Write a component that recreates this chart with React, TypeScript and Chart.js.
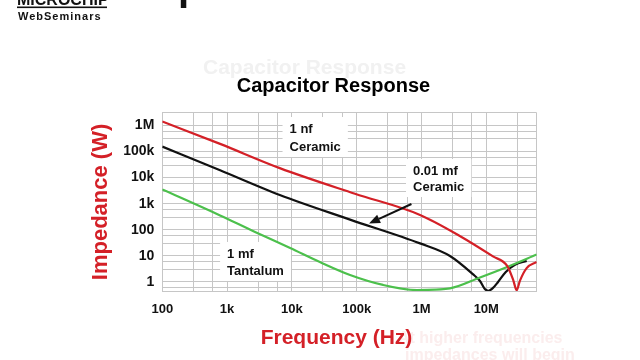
import React, { useEffect, useRef } from "react";
import { Chart, registerables } from "chart.js";

Chart.register(...registerables);

const FONT = "'Liberation Sans', Arial, Helvetica, sans-serif";
const RED = "#d42027";
const GREEN = "#4cc04c";
const BLACK = "#111111";
const GRID = "#c6c6c6";

// Axis ticks
const freqDecades = [100, 1e3, 1e4, 1e5, 1e6, 1e7];
const freqLabels = ["100", "1k", "10k", "100k", "1M", "10M"];
const impDecades = [0.1, 1, 10, 100, 1e3, 1e4, 1e5, 1e6];
const impLabels = ["", "1", "10", "100", "1k", "10k", "100k", "1M"];
const gridSteps = [1, 3, 6];
const X_MIN = 100;
const X_MAX = 6e7;
const Y_MIN = 0.45;
const Y_MAX = 3e6;

// 1 nf Ceramic (red)
const ceramic1nfFreq = [100, 780, 6.5e3, 9.4e4, 9.5e5, 3.9e6, 1.27e7, 2.1e7, 2.6e7, 2.95e7, 3.3e7, 4.2e7, 6e7];
const ceramic1nfZ = [1.4e6, 1.95e5, 2.3e4, 2.4e3, 370, 58, 9.5, 4.1, 1.2, 0.48, 1.1, 3.4, 5.8];

// 0.01 mf Ceramic (black)
const ceramic001Freq = [100, 780, 6.5e3, 7.9e4, 9.5e5, 2.75e6, 6.2e6, 8e6, 9.5e6, 1.08e7, 1.27e7, 1.52e7, 2.0e7, 2.77e7, 4.2e7];
const ceramic001Z = [1.53e5, 1.9e4, 2.15e3, 245, 30, 9.9, 2.0, 1.09, 0.54, 0.46, 0.59, 1.0, 2.4, 4.5, 6.4];

// 1 mf Tantalum (green)
const tantalumFreq = [100, 780, 2.7e3, 9.4e3, 2.7e4, 7.9e4, 2.55e5, 8.5e5, 2.75e6, 8e6, 2.1e7, 6e7];
const tantalumZ = [3.5e3, 353, 82, 20, 5.8, 1.85, 0.77, 0.49, 0.57, 1.49, 3.76, 11.3];

// Annotation anchors (data coordinates: frequency, impedance)
const labelNf = { f: 9.2e3, lines: ["1 nf", "Ceramic"], z: [5.1e5, 1.04e5] };
const label001 = { f: 7.4e5, lines: ["0.01 mf", "Ceramic"], z: [1.25e4, 3.05e3] };
const labelTa = { f: 1.0e3, lines: ["1 mf", "Tantalum"], z: [8.3, 1.85] };
const arrowFrom = { f: 7.0e5, z: 970 };
const arrowTo = { f: 1.55e5, z: 175 };

const near = (a: number, b: number) => Math.abs(a - b) / b < 1e-6;

function toPoints(fs: number[], zs: number[]) {
  return fs.map((f, i) => ({ x: f, y: zs[i] }));
}

const annotationPlugin = {
  id: "slideDecor",
  beforeDraw(chart: any) {
    const ctx = chart.ctx;
    ctx.save();
    ctx.fillStyle = "#ffffff";
    ctx.fillRect(0, 0, chart.width, chart.height);
    // ghost title from slide transition
    ctx.fillStyle = "#f1f1f1";
    ctx.font = `bold 21px ${FONT}`;
    ctx.textAlign = "left";
    ctx.textBaseline = "alphabetic";
    ctx.fillText("Capacitor Response", 203, 74);
    // ghost red note
    ctx.fillStyle = "#fbeded";
    ctx.font = `bold 16px ${FONT}`;
    ctx.fillText("At higher frequencies", 398, 343);
    ctx.fillText("impedances will begin", 405, 360);
    // logo
    ctx.fillStyle = "#111";
    ctx.font = `bold 16px ${FONT}`;
    ctx.fillText("MICROCHIP", 17, 4.5);
    ctx.fillRect(17, 6.5, 90, 1.6);
    ctx.font = `bold 11px ${FONT}`;
    (ctx as any).letterSpacing = "1px";
    ctx.fillText("WebSeminars", 18, 20);
    (ctx as any).letterSpacing = "0px";
    ctx.font = `bold 40px ${FONT}`;
    ctx.fillText("p", 178, 0);
    // main title
    ctx.fillStyle = "#000";
    ctx.font = `bold 20px ${FONT}`;
    ctx.textAlign = "center";
    ctx.fillText("Capacitor Response", 333.5, 91.5);
    // x axis title
    ctx.fillStyle = RED;
    ctx.font = `bold 21px ${FONT}`;
    ctx.fillText("Frequency (Hz)", 336.5, 344);
    ctx.restore();
  },
  beforeDatasetsDraw(chart: any) {
    const ctx = chart.ctx;
    const xs = chart.scales.x;
    const ys = chart.scales.y;
    ctx.save();
    ctx.font = `bold 13px ${FONT}`;
    ctx.fillStyle = "#ffffff";
    for (const lab of [labelNf, label001, labelTa]) {
      const x = xs.getPixelForValue(lab.f);
      const yTop = ys.getPixelForValue(lab.z[0]);
      const yBot = ys.getPixelForValue(lab.z[1]);
      const w = Math.max(...lab.lines.map((t) => ctx.measureText(t).width));
      ctx.fillRect(x - 7, yTop - 16, w + 14, yBot - yTop + 22);
    }
    ctx.restore();
  },
  afterDatasetsDraw(chart: any) {
    const ctx = chart.ctx;
    const xs = chart.scales.x;
    const ys = chart.scales.y;
    ctx.save();
    ctx.fillStyle = "#111";
    ctx.font = `bold 13px ${FONT}`;
    ctx.textAlign = "left";
    ctx.textBaseline = "alphabetic";
    for (const lab of [labelNf, label001, labelTa]) {
      const x = xs.getPixelForValue(lab.f);
      lab.lines.forEach((t, i) => ctx.fillText(t, x, ys.getPixelForValue(lab.z[i])));
    }
    // arrow
    const x1 = xs.getPixelForValue(arrowFrom.f);
    const y1 = ys.getPixelForValue(arrowFrom.z);
    const x2 = xs.getPixelForValue(arrowTo.f);
    const y2 = ys.getPixelForValue(arrowTo.z);
    const len = Math.hypot(x2 - x1, y2 - y1);
    const ux = (x2 - x1) / len;
    const uy = (y2 - y1) / len;
    const hl = 11;
    const hw = 4.5;
    const bx = x2 - ux * hl;
    const by = y2 - uy * hl;
    ctx.strokeStyle = "#111";
    ctx.lineWidth = 2;
    ctx.beginPath();
    ctx.moveTo(x1, y1);
    ctx.lineTo(bx, by);
    ctx.stroke();
    ctx.beginPath();
    ctx.moveTo(x2, y2);
    ctx.lineTo(bx - uy * hw, by + ux * hw);
    ctx.lineTo(bx + uy * hw, by - ux * hw);
    ctx.closePath();
    ctx.fill();
    ctx.restore();
  },
};

export default function App() {
  const ref = useRef<HTMLCanvasElement>(null);
  useEffect(() => {
    const canvas = ref.current;
    if (!canvas) return;
    const gridX = freqDecades.flatMap((d) => gridSteps.map((m) => d * m)).filter((v) => v >= X_MIN && v <= X_MAX * 1.0001);
    const gridY = impDecades.flatMap((d) => gridSteps.map((m) => d * m)).filter((v) => v >= Y_MIN && v <= Y_MAX * 1.0001);
    const lineDs = (label: string, color: string, fs: number[], zs: number[]) => ({
      label,
      data: toPoints(fs, zs),
      borderColor: color,
      backgroundColor: color,
      showLine: true,
      pointRadius: 0,
      borderWidth: 2.2,
      cubicInterpolationMode: "monotone" as const,
    });
    const chart = new Chart(canvas, {
      type: "scatter",
      data: {
        datasets: [
          lineDs("1 nf Ceramic", RED, ceramic1nfFreq, ceramic1nfZ),
          lineDs("1 mf Tantalum", GREEN, tantalumFreq, tantalumZ),
          lineDs("0.01 mf Ceramic", BLACK, ceramic001Freq, ceramic001Z),
        ],
      },
      options: {
        responsive: false,
        animation: false,
        events: [],
        layout: { padding: { left: 87.8, right: 103.3, top: 112.9, bottom: 0 } },
        plugins: {
          legend: { display: false },
          tooltip: { enabled: false },
          title: { display: false },
        },
        scales: {
          x: {
            type: "logarithmic",
            min: X_MIN,
            max: X_MAX,
            afterBuildTicks: (s: any) => {
              s.ticks = gridX.map((v) => ({ value: v }));
            },
            afterFit: (s: any) => {
              s.height = 69;
            },
            ticks: {
              autoSkip: false,
              maxRotation: 0,
              minRotation: 0,
              padding: 11,
              color: "#111",
              font: { family: FONT, size: 13, weight: "bold" },
              callback: (v: any) => {
                const i = freqDecades.findIndex((d) => near(Number(v), d));
                return i >= 0 ? freqLabels[i] : "";
              },
            },
            grid: { color: GRID, drawTicks: false, lineWidth: 1 },
            border: { color: GRID, width: 1 },
          },
          y: {
            type: "logarithmic",
            min: Y_MIN,
            max: Y_MAX,
            afterBuildTicks: (s: any) => {
              s.ticks = gridY.map((v) => ({ value: v }));
            },
            afterFit: (s: any) => {
              s.width = 162.3 - 87.8;
            },
            ticks: {
              autoSkip: false,
              padding: 8,
              color: "#111",
              font: { family: FONT, size: 14, weight: "bold" },
              callback: (v: any) => {
                const i = impDecades.findIndex((d) => near(Number(v), d));
                return i >= 0 ? impLabels[i] : "";
              },
            },
            grid: { color: GRID, drawTicks: false, lineWidth: 1 },
            border: { color: GRID, width: 1 },
            title: {
              display: true,
              text: "Impedance (W)",
              color: RED,
              padding: 0,
              font: { family: FONT, size: 22, weight: "bold" },
            },
          },
        },
      },
      plugins: [annotationPlugin],
    });
    return () => chart.destroy();
  }, []);
  return (
    <canvas
      ref={ref}
      width={640}
      height={360}
      style={{ position: "absolute", left: 0, top: 0, width: 640, height: 360 }}
    />
  );
}
